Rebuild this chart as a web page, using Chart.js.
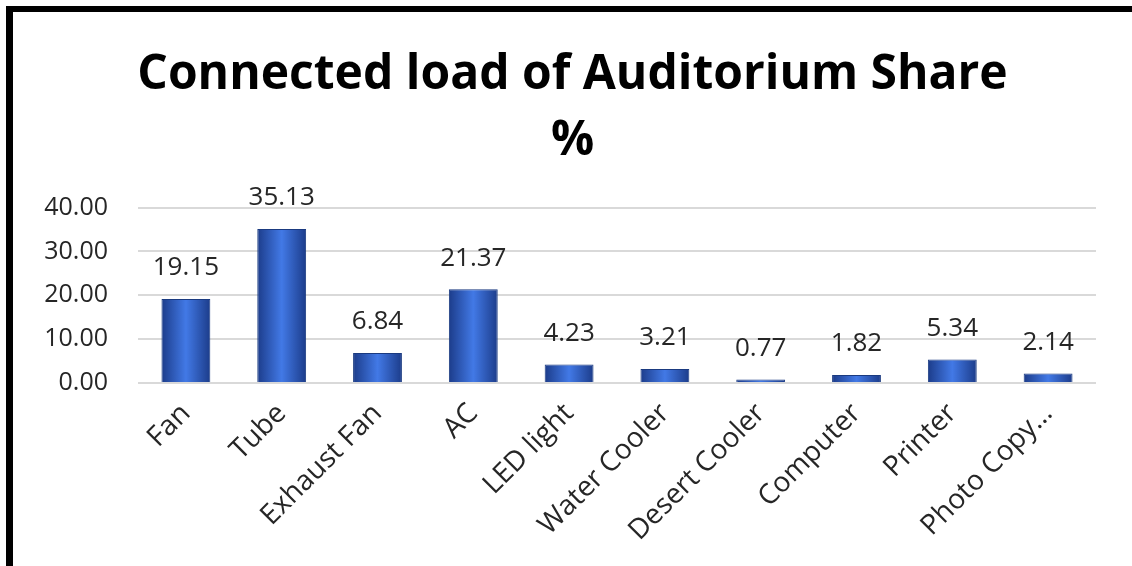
<!DOCTYPE html>
<html lang="en">
<head>
    <meta charset="UTF-8">
    <title>Connected load of Auditorium Share %</title>
    <script src="https://cdn.jsdelivr.net/npm/chart.js@4.4.1/dist/chart.umd.min.js"></script>
    <style>
        html, body {
            margin: 0;
            padding: 0;
            background: #ffffff;
        }

        .frame {
            position: absolute;
            left: 6px;
            top: 6px;
            width: 1126px;
            height: 560px;
            box-sizing: border-box;
            border-left: 7px solid #000;
            border-top: 6px solid #000;
        }

        .chart-box {
            position: absolute;
            left: 0;
            top: 0;
            right: 0;
            bottom: 0;
        }
    </style>
</head>
<body>
    <div class="frame">
        <div class="chart-box">
            <canvas id="shareChart"></canvas>
        </div>
    </div>

    <script>
        // chart data
        const categories = ['Fan', 'Tube', 'Exhaust Fan', 'AC', 'LED light', 'Water Cooler',
                            'Desert Cooler', 'Computer', 'Printer', 'Photo Copy…'];
        const shares = [19.15, 35.13, 6.84, 21.37, 4.23, 3.21, 0.77, 1.82, 5.34, 2.14];
        const yTicks = [0, 10, 20, 30, 40];
        const titleLines = ['Connected load of Auditorium Share', '%'];

        const barShare = 0.51;
        const textColor = '#262626';

        // horizontal shading across each bar, like the Excel bevel style
        function barFill(context) {
            const chart = context.chart;
            const xScale = chart.scales.x;
            if (!chart.chartArea || !xScale) return '#2f5fc4';
            const centre = xScale.getPixelForValue(context.dataIndex);
            const half = (xScale.width / categories.length) * barShare / 2;
            const g = chart.ctx.createLinearGradient(centre - half, 0, centre + half, 0);
            g.addColorStop(0, '#1c3c8a');
            g.addColorStop(0.5, '#4279e6');
            g.addColorStop(1, '#1c3c8a');
            return g;
        }

        // value labels above the bars
        const valueLabels = {
            id: 'valueLabels',
            afterDatasetsDraw(chart) {
                const ctx = chart.ctx;
                const meta = chart.getDatasetMeta(0);
                ctx.save();
                ctx.font = '26px "Open Sans"';
                ctx.fillStyle = textColor;
                ctx.textAlign = 'center';
                ctx.textBaseline = 'middle';
                meta.data.forEach((bar, i) => {
                    ctx.fillText(shares[i].toFixed(2), bar.x, bar.y - 31);
                });
                ctx.restore();
            }
        };

        Chart.defaults.font.family = '"Open Sans", sans-serif';
        Chart.defaults.color = textColor;

        new Chart(document.getElementById('shareChart'), {
            type: 'bar',
            data: {
                labels: categories,
                datasets: [{
                    data: shares,
                    backgroundColor: barFill,
                    borderColor: '#1a3a80',
                    borderWidth: 1,
                    barPercentage: barShare,
                    categoryPercentage: 1
                }]
            },
            options: {
                responsive: true,
                maintainAspectRatio: false,
                animation: false,
                layout: {
                    padding: 0
                },
                plugins: {
                    legend: { display: false },
                    tooltip: { enabled: false },
                    title: {
                        display: true,
                        text: titleLines,
                        color: '#000',
                        font: { size: 48, weight: 'bold', lineHeight: 1.36 },
                        padding: { top: 31, bottom: 34 }
                    }
                },
                scales: {
                    x: {
                        grid: { display: false },
                        border: { display: false },
                        ticks: {
                            autoSkip: false,
                            minRotation: 45,
                            maxRotation: 45,
                            padding: 6,
                            font: { size: 28 }
                        },
                        afterFit(scale) { scale.height = 183; }
                    },
                    y: {
                        min: 0,
                        max: 40,
                        grid: { color: '#d9d9d9', lineWidth: 2, drawTicks: false },
                        border: { display: false },
                        afterBuildTicks(scale) {
                            scale.ticks = yTicks.map(v => ({ value: v }));
                        },
                        ticks: {
                            padding: 30,
                            font: { size: 25 },
                            callback: v => Number(v).toFixed(2)
                        },
                        afterFit(scale) { scale.width = 125; }
                    },
                    // empty right-hand axis, only keeps the right margin
                    spacer: {
                        type: 'linear',
                        position: 'right',
                        grid: { display: false },
                        border: { display: false },
                        ticks: { display: false },
                        afterFit(scale) { scale.width = 36; }
                    }
                }
            },
            plugins: [valueLabels]
        });
    </script>
</body>
</html>
